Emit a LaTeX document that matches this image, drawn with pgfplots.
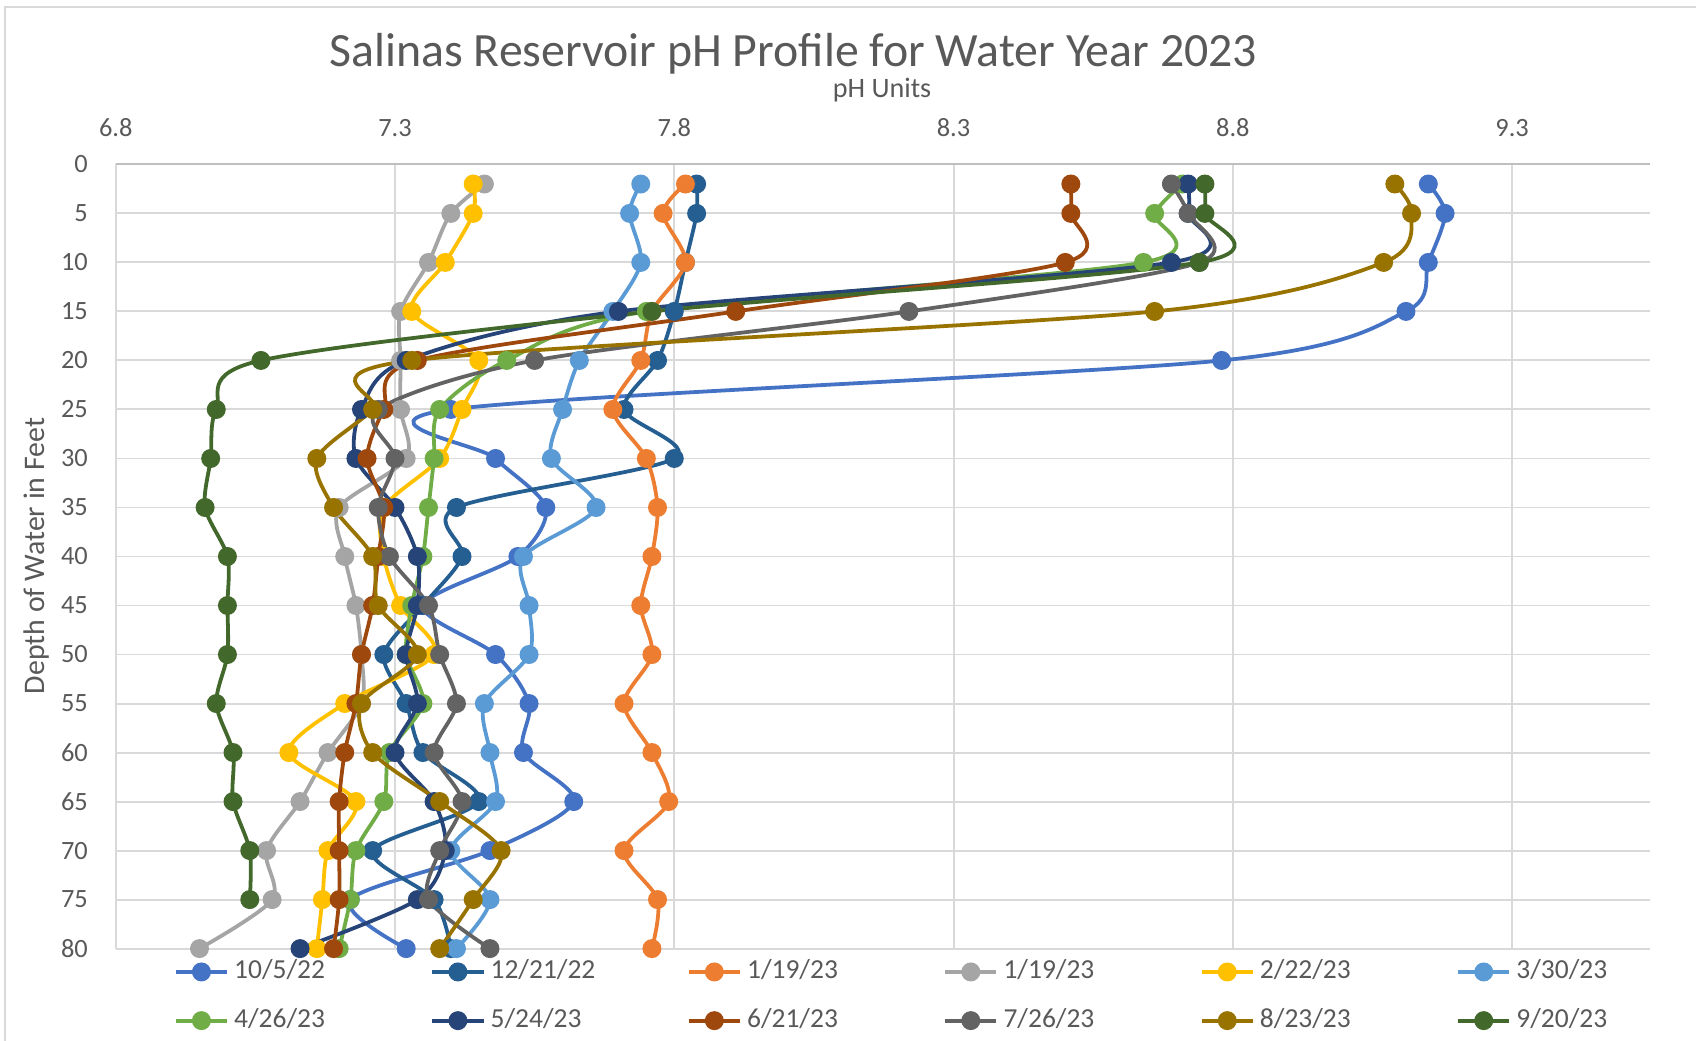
\documentclass[border=0pt]{standalone}
\usepackage{fontspec}
\setmainfont{Carlito}
\usepackage{pgfplots}
\pgfplotsset{compat=1.18}
\definecolor{txt}{HTML}{595959}
\definecolor{gridc}{HTML}{D9D9D9}
\definecolor{topc}{HTML}{BFBFBF}
\definecolor{cA}{HTML}{4472C4}
\definecolor{cB}{HTML}{255E91}
\definecolor{cC}{HTML}{ED7D31}
\definecolor{cD}{HTML}{A5A5A5}
\definecolor{cE}{HTML}{FFC000}
\definecolor{cF}{HTML}{5B9BD5}
\definecolor{cG}{HTML}{70AD47}
\definecolor{cH}{HTML}{264478}
\definecolor{cI}{HTML}{9E480E}
\definecolor{cJ}{HTML}{636363}
\definecolor{cK}{HTML}{997300}
\definecolor{cL}{HTML}{43682B}
\newcommand{\legtxt}[1]{\makebox[88.3pt][l]{#1}}
\begin{document}
\begin{tikzpicture}
\useasboundingbox (-53.5pt,-42.5pt) rectangle (730.5pt,438.5pt);
\draw[gridc, line width=0.9pt] (-51.2pt,-42.5pt) -- (-51.2pt,435.4pt) -- (730.5pt,435.4pt);
\begin{axis}[
  at={(354.5pt,181.25pt)}, anchor=center,
  scale only axis, width=709pt, height=362.5pt,
  xmin=6.8, xmax=9.546, ymin=0, ymax=80, y dir=reverse,
  xtick={6.8,7.3,7.8,8.3,8.8,9.3},
  xticklabels={6.8,7.3,7.8,8.3,8.8,9.3},
  ytick={0,5,...,80},
  yticklabels={0,5,10,15,20,25,30,35,40,45,50,55,60,65,70,75,80},
  xticklabel pos=upper,
  major tick length=0pt,
  grid=major,
  major grid style={draw=gridc, line width=0.9pt},
  axis line style={draw=none},
  clip=false,
  tick label style={font=\fontsize{12.2}{14}\selectfont, text=txt},
  xticklabel style={anchor=base, inner sep=0pt, yshift=12.8pt},
  yticklabel style={anchor=east, inner sep=0pt, xshift=-12.7pt},
  every axis plot/.append style={line width=1.75pt, smooth, tension=0.5, mark=*, mark size=3.5pt, mark options={solid}},
  legend columns=6,
  legend cell align=left,
  legend image code/.code={\draw[mark repeat=2,mark phase=2,#1] plot coordinates {(0pt,0pt) (11.75pt,0pt) (23.5pt,0pt)};},
  legend style={at={(0,0)}, anchor=north west, xshift=27pt, yshift=-2.3pt,
    draw=none, fill=none, inner sep=0pt, outer sep=0pt, row sep=5.5pt,
    /tikz/every even column/.append style={column sep=0pt},
    nodes={inner sep=2.5pt, text height=9pt, text depth=3pt, font=\fontsize{12.7}{15}\selectfont, text=txt}},
]
\addplot[color=cA] coordinates {(9.15,2) (9.18,5) (9.15,10) (9.11,15) (8.78,20) (7.40,25) (7.48,30) (7.57,35) (7.52,40) (7.35,45) (7.48,50) (7.54,55) (7.53,60) (7.62,65) (7.47,70) (7.22,75) (7.32,80)};
\addlegendentry{\legtxt{10/5/22}}
\addplot[color=cB] coordinates {(7.84,2) (7.84,5) (7.82,10) (7.80,15) (7.77,20) (7.71,25) (7.80,30) (7.41,35) (7.42,40) (7.35,45) (7.28,50) (7.32,55) (7.35,60) (7.45,65) (7.26,70) (7.37,75) (7.40,80)};
\addlegendentry{\legtxt{12/21/22}}
\addplot[color=cC] coordinates {(7.82,2) (7.78,5) (7.82,10) (7.76,15) (7.74,20) (7.69,25) (7.75,30) (7.77,35) (7.76,40) (7.74,45) (7.76,50) (7.71,55) (7.76,60) (7.79,65) (7.71,70) (7.77,75) (7.76,80)};
\addlegendentry{\legtxt{1/19/23}}
\addplot[color=cD] coordinates {(7.46,2) (7.40,5) (7.36,10) (7.31,15) (7.31,20) (7.31,25) (7.32,30) (7.20,35) (7.21,40) (7.23,45) (7.24,50) (7.24,55) (7.18,60) (7.13,65) (7.07,70) (7.08,75) (6.95,80)};
\addlegendentry{\legtxt{1/19/23}}
\addplot[color=cE] coordinates {(7.44,2) (7.44,5) (7.39,10) (7.33,15) (7.45,20) (7.42,25) (7.38,30) (7.28,35) (7.28,40) (7.31,45) (7.37,50) (7.21,55) (7.11,60) (7.23,65) (7.18,70) (7.17,75) (7.16,80)};
\addlegendentry{\legtxt{2/22/23}}
\addplot[color=cF] coordinates {(7.74,2) (7.72,5) (7.74,10) (7.69,15) (7.63,20) (7.60,25) (7.58,30) (7.66,35) (7.53,40) (7.54,45) (7.54,50) (7.46,55) (7.47,60) (7.48,65) (7.40,70) (7.47,75) (7.41,80)};
\addlegendentry{\legtxt{3/30/23}}
\addplot[color=cG] coordinates {(8.71,2) (8.66,5) (8.64,10) (7.75,15) (7.50,20) (7.38,25) (7.37,30) (7.36,35) (7.35,40) (7.33,45) (7.32,50) (7.35,55) (7.29,60) (7.28,65) (7.23,70) (7.22,75) (7.20,80)};
\addlegendentry{\legtxt{4/26/23}}
\addplot[color=cH] coordinates {(8.72,2) (8.72,5) (8.69,10) (7.70,15) (7.32,20) (7.24,25) (7.23,30) (7.30,35) (7.34,40) (7.34,45) (7.32,50) (7.34,55) (7.30,60) (7.37,65) (7.39,70) (7.34,75) (7.13,80)};
\addlegendentry{\legtxt{5/24/23}}
\addplot[color=cI] coordinates {(8.51,2) (8.51,5) (8.50,10) (7.91,15) (7.34,20) (7.28,25) (7.25,30) (7.28,35) (7.27,40) (7.26,45) (7.24,50) (7.23,55) (7.21,60) (7.20,65) (7.20,70) (7.20,75) (7.19,80)};
\addlegendentry{\legtxt{6/21/23}}
\addplot[color=cJ] coordinates {(8.69,2) (8.72,5) (8.74,10) (8.22,15) (7.55,20) (7.27,25) (7.30,30) (7.27,35) (7.29,40) (7.36,45) (7.38,50) (7.41,55) (7.37,60) (7.42,65) (7.38,70) (7.36,75) (7.47,80)};
\addlegendentry{\legtxt{7/26/23}}
\addplot[color=cK] coordinates {(9.09,2) (9.12,5) (9.07,10) (8.66,15) (7.33,20) (7.26,25) (7.16,30) (7.19,35) (7.26,40) (7.27,45) (7.34,50) (7.24,55) (7.26,60) (7.38,65) (7.49,70) (7.44,75) (7.38,80)};
\addlegendentry{\legtxt{8/23/23}}
\addplot[color=cL] coordinates {(8.75,2) (8.75,5) (8.74,10) (7.76,15) (7.06,20) (6.98,25) (6.97,30) (6.96,35) (7.00,40) (7.00,45) (7.00,50) (6.98,55) (7.01,60) (7.01,65) (7.04,70) (7.04,75)};
\addlegendentry{\legtxt{9/20/23}}
\end{axis}
\draw[topc, line width=1pt] (0pt,362.5pt) -- (709pt,362.5pt);
\node[anchor=base, font=\fontsize{22.1}{26}\selectfont, text=txt] at (313.25pt,407.7pt) {Salinas Reservoir pH Profile for Water Year 2023};
\node[anchor=base, font=\fontsize{13}{16}\selectfont, text=txt] at (354.25pt,393.5pt) {pH Units};
\node[rotate=90, anchor=base, font=\fontsize{13.8}{16}\selectfont, text=txt] at (-32.7pt,181.5pt) {Depth of Water in Feet};
\end{tikzpicture}
\end{document}
